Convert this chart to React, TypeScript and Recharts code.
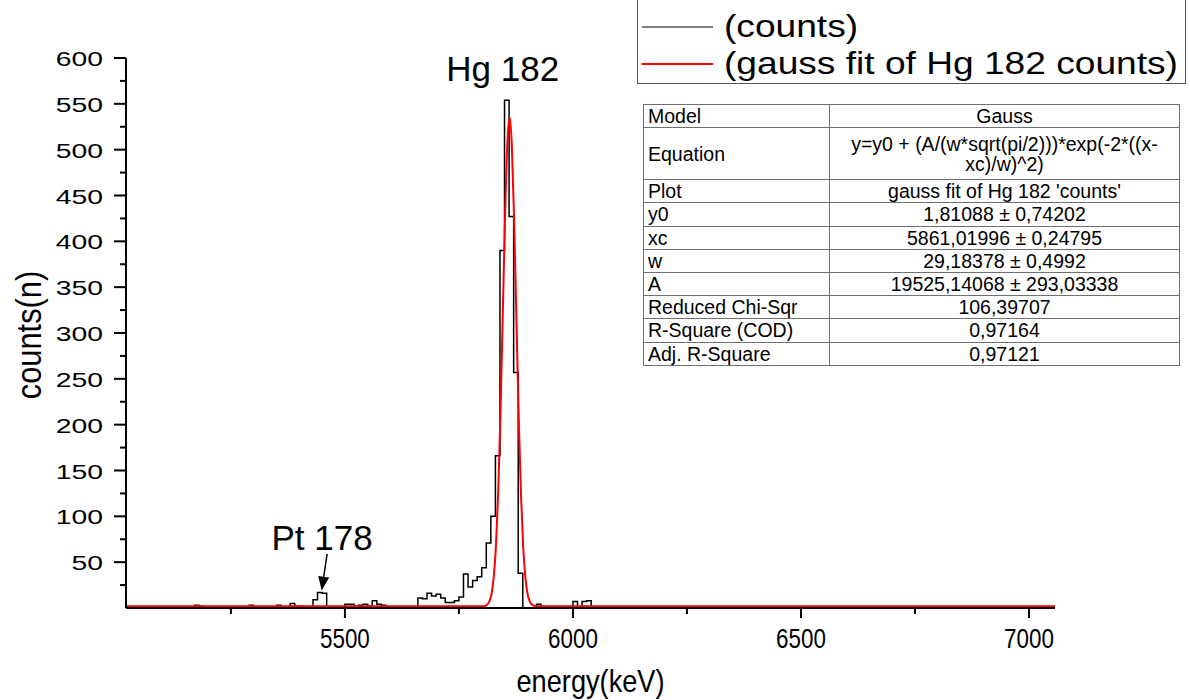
import React from "react";
import {
  Line,
  LineChart,
  ReferenceDot,
  ReferenceLine,
  XAxis,
  YAxis,
} from "recharts";

const FONT = '"Liberation Sans", Arial, sans-serif';

// histogram bins (left edge, keV) that are not empty, 10 keV wide
const binEnergy = [
  5040, 5120, 5170, 5180, 5240, 5280, 5290, 5350, 5380, 5390, 5400, 5430, 5440, 5450,
  5500, 5510, 5520, 5530, 5540, 5550, 5560, 5570, 5580, 5590, 5600, 5610, 5630,
  5660, 5670, 5680, 5690, 5700, 5710, 5720, 5730, 5740, 5750, 5760, 5770, 5780,
  5790, 5800, 5810, 5820, 5830, 5840, 5850, 5860, 5870, 5880, 5920, 6000, 6020,
  6030, 6040,
];
const binCounts = [
  1, 1, 3, 2, 1, 1, 3, 3, 5, 2, 2, 9, 17, 16,
  4, 4, 2, 3, 4, 2, 8, 4, 3, 1, 1, 1, 1,
  11, 10, 16, 13, 15, 11, 6, 6, 8, 12, 37, 23, 30,
  34, 44, 71, 100, 166, 390, 554, 427, 257, 38, 4, 7, 7,
  8, 1,
];

// red gauss fit curve
const fitEnergy = [
  5020, 5790, 5801, 5806, 5811, 5816, 5821, 5826, 5831, 5836, 5841, 5846, 5851, 5856,
  5861, 5866, 5871, 5876, 5881, 5886, 5891, 5896, 5901, 5906, 5911, 5916, 5921, 5932,
  7057,
];
const fitCounts = [
  1.8, 1.8, 1.9, 2.2, 3.3, 6.4, 14, 32, 66, 125, 210, 317, 424, 505,
  536, 505, 424, 317, 210, 125, 66, 32, 14, 6.4, 3.3, 2.2, 1.9, 1.8,
  1.8,
];

const energyTicks = [5500, 6000, 6500, 7000];
const energyMinor = [5250, 5750, 6250, 6750];
const countTicks = [50, 100, 150, 200, 250, 300, 350, 400, 450, 500, 550, 600];
const countMinor = [25, 75, 125, 175, 225, 275, 325, 375, 425, 475, 525, 575];

const histStart = 5020;
const histEnd = 7050;

const fitRows = [
  ["Model", "Gauss"],
  ["Equation", "y=y0 + (A/(w*sqrt(pi/2)))*exp(-2*((x-|xc)/w)^2)"],
  ["Plot", "gauss fit of Hg 182 'counts'"],
  ["y0", "1,81088 ± 0,74202"],
  ["xc", "5861,01996 ± 0,24795"],
  ["w", "29,18378 ± 0,4992"],
  ["A", "19525,14068 ± 293,03338"],
  ["Reduced Chi-Sqr", "106,39707"],
  ["R-Square (COD)", "0,97164"],
  ["Adj. R-Square", "0,97121"],
];

const histData: { energy: number; counts: number }[] = [];
for (let e = histStart; e <= histEnd; e += 10) {
  const i = binEnergy.indexOf(e);
  histData.push({ energy: e, counts: i >= 0 ? binCounts[i] : 0 });
}
const fitData = fitEnergy.map((e, i) => ({ energy: e, counts: fitCounts[i] }));

const XTick = (props: any) => {
  const { x, y, payload } = props;
  const major = energyTicks.includes(payload.value);
  return (
    <g>
      <line x1={x} x2={x} y1={y} y2={y + (major ? 10 : 6)} stroke="#000" strokeWidth={2} />
      {major && (
        <text
          transform={`translate(${x},${y + 40}) scale(0.8,1)`}
          textAnchor="middle"
          fontSize={28}
          fontFamily={FONT}
          fill="#000"
        >
          {payload.value}
        </text>
      )}
    </g>
  );
};

const YTick = (props: any) => {
  const { x, y, payload } = props;
  const major = countTicks.includes(payload.value);
  return (
    <g>
      <line x1={x - (major ? 12 : 6)} x2={x} y1={y} y2={y} stroke="#000" strokeWidth={2} />
      {major && (
        <text
          transform={`translate(${x - 23},${y + 8}) scale(1.35,1)`}
          textAnchor="end"
          fontSize={21}
          fontFamily={FONT}
          fill="#000"
        >
          {payload.value}
        </text>
      )}
    </g>
  );
};

const Arrow = (props: any) => {
  const { x1, y1, x2, y2 } = props;
  const dx = x2 - x1;
  const dy = y2 - y1;
  const len = Math.sqrt(dx * dx + dy * dy) || 1;
  const ux = dx / len;
  const uy = dy / len;
  const bx = x2 - ux * 14;
  const by = y2 - uy * 14;
  return (
    <g>
      <line x1={x1} y1={y1} x2={bx} y2={by} stroke="#000" strokeWidth={1.5} />
      <polygon
        points={`${x2},${y2} ${bx - uy * 5.5},${by + ux * 5.5} ${bx + uy * 5.5},${by - ux * 5.5}`}
        fill="#000"
      />
    </g>
  );
};

const legendText: React.CSSProperties = {
  position: "absolute",
  left: 86,
  lineHeight: "37px",
  whiteSpace: "nowrap",
  transform: "scaleX(1.16)",
  transformOrigin: "left center",
};

const legendSwatch: React.CSSProperties = {
  position: "absolute",
  left: 4,
  width: 71,
  height: 2,
};

export default function App() {
  return (
    <div style={{ position: "relative", width: 1190, height: 700, background: "#fff", fontFamily: FONT }}>
      <style>{"body{margin:0;}"}</style>
      <LineChart
        width={1190}
        height={700}
        margin={{ top: 58, right: 135, left: 0, bottom: 0 }}
      >
        <XAxis
          dataKey="energy"
          type="number"
          domain={[5020, 7057]}
          allowDataOverflow
          ticks={[...energyMinor, ...energyTicks].sort((a, b) => a - b)}
          interval={0}
          tick={<XTick />}
          tickLine={false}
          tickSize={0}
          tickMargin={0}
          height={92}
          axisLine={{ stroke: "#000", strokeWidth: 2 }}
          label={{
            content: (p: any) => {
              const vb = p.viewBox;
              return (
                <text
                  transform={`translate(${vb.x + vb.width / 2},${vb.y + 84}) scale(0.85,1)`}
                  textAnchor="middle"
                  fontSize={32}
                  fontFamily={FONT}
                  fill="#000"
                >
                  energy(keV)
                </text>
              );
            },
          }}
        />
        <YAxis
          type="number"
          domain={[0, 600]}
          allowDataOverflow
          ticks={[...countMinor, ...countTicks].sort((a, b) => a - b)}
          interval={0}
          tick={<YTick />}
          tickLine={false}
          tickSize={0}
          tickMargin={0}
          width={126}
          axisLine={{ stroke: "#000", strokeWidth: 2 }}
          label={{
            content: (p: any) => {
              const vb = p.viewBox;
              return (
                <text
                  transform={`translate(41,${vb.y + vb.height / 2 + 2}) rotate(-90) scale(0.88,1)`}
                  textAnchor="middle"
                  fontSize={35}
                  fontFamily={FONT}
                  fill="#000"
                >
                  counts(n)
                </text>
              );
            },
          }}
        />
        <Line
          data={histData}
          dataKey="counts"
          type="stepAfter"
          stroke="#000"
          strokeWidth={1.5}
          dot={false}
          activeDot={false}
          isAnimationActive={false}
        />
        <Line
          data={fitData}
          dataKey="counts"
          type="monotone"
          stroke="#ff0000"
          strokeWidth={2}
          dot={false}
          activeDot={false}
          isAnimationActive={false}
        />
        <ReferenceDot
          x={5846}
          y={588}
          r={1}
          fill="none"
          stroke="none"
          label={{ value: "Hg 182", position: "center", fontSize: 35, fill: "#000", fontFamily: FONT }}
        />
        <ReferenceDot
          x={5450}
          y={77}
          r={1}
          fill="none"
          stroke="none"
          label={{ value: "Pt 178", position: "center", fontSize: 35, fill: "#000", fontFamily: FONT }}
        />
        <ReferenceLine
          segment={[
            { x: 5461, y: 59 },
            { x: 5449, y: 19 },
          ]}
          shape={(p: any) => <Arrow {...p} />}
        />
      </LineChart>

      <div
        style={{
          position: "absolute",
          left: 637,
          top: -2,
          width: 549,
          height: 86,
          border: "1px solid #555",
          boxSizing: "border-box",
          fontSize: 32,
          color: "#000",
        }}
      >
        <div style={{ ...legendSwatch, top: 27, background: "#808080" }} />
        <div style={{ ...legendText, top: 9 }}>(counts)</div>
        <div style={{ ...legendSwatch, top: 64, height: 1.5, background: "#ff0000" }} />
        <div style={{ ...legendText, top: 46 }}>(gauss fit of Hg 182 counts)</div>
      </div>

      <table
        style={{
          position: "absolute",
          left: 643,
          top: 104,
          width: 536,
          borderCollapse: "collapse",
          fontSize: 19.5,
          color: "#000",
          tableLayout: "fixed",
        }}
      >
        <colgroup>
          <col style={{ width: 186 }} />
          <col style={{ width: 350 }} />
        </colgroup>
        <tbody>
          {fitRows.map(([k, v]) => {
            const lines = v.split("|");
            return (
              <tr key={k} style={{ height: lines.length > 1 ? 52 : 23.2 }}>
                <td style={{ border: "1px solid #707070", padding: "0 4px", lineHeight: "20px", whiteSpace: "nowrap" }}>{k}</td>
                <td style={{ border: "1px solid #707070", padding: 0, textAlign: "center", lineHeight: "20px", whiteSpace: "nowrap" }}>
                  {lines.map((l, i) => (
                    <div key={i}>{l}</div>
                  ))}
                </td>
              </tr>
            );
          })}
        </tbody>
      </table>
    </div>
  );
}
